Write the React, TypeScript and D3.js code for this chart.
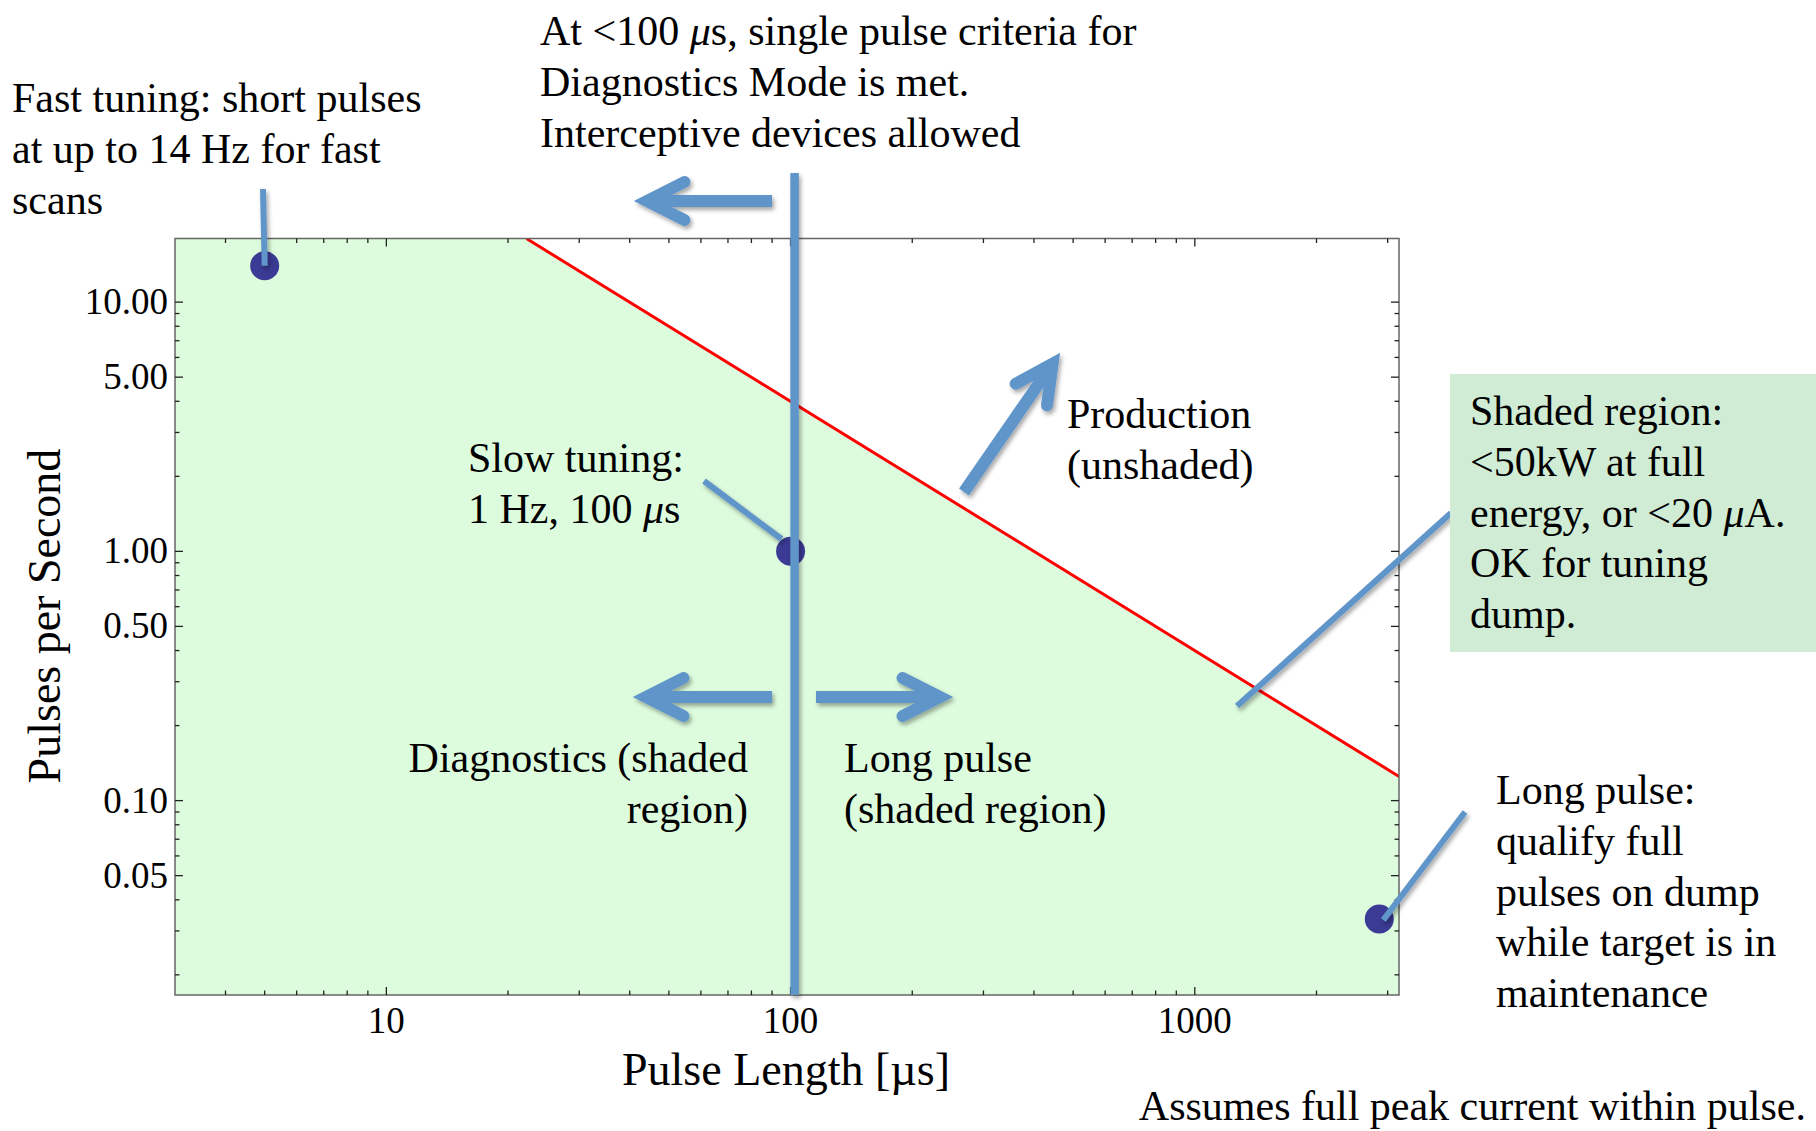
import React, { useRef, useEffect } from "react";
import * as d3 from "d3";

// chart values
const limitLine = [
  { len: 22.2, rate: 18 },
  { len: 3200, rate: 0.125 },
];
const operatingPoints = [
  { name: "fast", len: 5, rate: 14 },
  { name: "slow", len: 100, rate: 1 },
  { name: "long", len: 2860, rate: 0.0335 },
];
const singlePulseLimit = 100;
const xMajorTicks = [10, 100, 1000];
const xMinorTicks = [4, 5, 6, 7, 8, 9, 20, 30, 40, 50, 60, 70, 80, 90, 200, 300, 400, 500, 600, 700, 800, 900, 2000, 3000];
const yMajorTicks = [0.05, 0.1, 0.5, 1, 5, 10];
const yMinorTicks = [0.02, 0.03, 0.04, 0.06, 0.07, 0.08, 0.09, 0.2, 0.3, 0.4, 0.6, 0.7, 0.8, 0.9, 2, 3, 4, 6, 7, 8, 9];

const W = 1816;
const H = 1131;
const plot = { left: 175, right: 1399, top: 238.5, bottom: 995 };

const serif = "'Liberation Serif', 'Times New Roman', serif";
const blue = "#6095c9";
const fillGreen = "#ddfcdd";

const App = () => {
  const ref = useRef(null);

  useEffect(() => {
    const svg = d3.select(ref.current);
    svg.selectAll("*").remove();

    const x = d3.scaleLog().domain([3, 3200]).range([plot.left, plot.right]);
    const y = d3.scaleLog().domain([0.0166, 18]).range([plot.bottom, plot.top]);

    const defs = svg.append("defs");
    defs
      .append("clipPath")
      .attr("id", "plotClip")
      .append("rect")
      .attr("x", plot.left)
      .attr("y", plot.top)
      .attr("width", plot.right - plot.left)
      .attr("height", plot.bottom - plot.top);
    const f = defs
      .append("filter")
      .attr("id", "shadow")
      .attr("x", "-20%")
      .attr("y", "-20%")
      .attr("width", "140%")
      .attr("height", "140%");
    f.append("feDropShadow")
      .attr("dx", 2)
      .attr("dy", 3)
      .attr("stdDeviation", 2)
      .attr("flood-color", "#000")
      .attr("flood-opacity", 0.35);

    svg.append("rect").attr("width", W).attr("height", H).attr("fill", "#fff");

    // shaded region (below the power limit)
    const g = svg.append("g").attr("clip-path", "url(#plotClip)");
    g.append("rect")
      .attr("x", plot.left)
      .attr("y", plot.top)
      .attr("width", plot.right - plot.left)
      .attr("height", plot.bottom - plot.top)
      .attr("fill", fillGreen);
    const above = d3
      .area()
      .x((d) => x(d.len))
      .y0(plot.top)
      .y1((d) => y(d.rate));
    g.append("path").datum(limitLine).attr("d", above).attr("fill", "#fff");
    g.append("path")
      .datum(limitLine)
      .attr("d", d3.line().x((d) => x(d.len)).y((d) => y(d.rate)))
      .attr("fill", "none")
      .attr("stroke", "#ff0000")
      .attr("stroke-width", 3);

    // frame
    svg.append("rect")
      .attr("x", plot.left)
      .attr("y", plot.top)
      .attr("width", plot.right - plot.left)
      .attr("height", plot.bottom - plot.top)
      .attr("fill", "none")
      .attr("stroke", "#666")
      .attr("stroke-width", 1.5);

    const ticks = svg.append("g").attr("stroke", "#222").attr("stroke-width", 1.3);
    const addX = (vals, len) => {
      vals.forEach((v) => {
        ticks.append("line").attr("x1", x(v)).attr("x2", x(v)).attr("y1", plot.bottom).attr("y2", plot.bottom - len);
        ticks.append("line").attr("x1", x(v)).attr("x2", x(v)).attr("y1", plot.top).attr("y2", plot.top + len);
      });
    };
    const addY = (vals, len) => {
      vals.forEach((v) => {
        ticks.append("line").attr("x1", plot.left).attr("x2", plot.left + len).attr("y1", y(v)).attr("y2", y(v));
        ticks.append("line").attr("x1", plot.right).attr("x2", plot.right - len).attr("y1", y(v)).attr("y2", y(v));
      });
    };
    addX(xMajorTicks, 8);
    addX(xMinorTicks, 4.5);
    addY(yMajorTicks, 8);
    addY(yMinorTicks, 4.5);

    const labels = svg.append("g").attr("font-family", serif).attr("fill", "#000");
    labels
      .selectAll(".xl")
      .data(xMajorTicks)
      .join("text")
      .attr("x", (d) => x(d))
      .attr("y", 1033)
      .attr("text-anchor", "middle")
      .attr("font-size", 37)
      .text((d) => String(d));
    labels
      .selectAll(".yl")
      .data(yMajorTicks)
      .join("text")
      .attr("x", 168)
      .attr("y", (d) => y(d) + 12)
      .attr("text-anchor", "end")
      .attr("font-size", 37)
      .text((d) => d3.format(".2f")(d));

    labels
      .append("text")
      .attr("x", 786)
      .attr("y", 1085)
      .attr("text-anchor", "middle")
      .attr("font-size", 46)
      .text("Pulse Length [µs]");
    labels
      .append("text")
      .attr("transform", "translate(60,616) rotate(-90)")
      .attr("text-anchor", "middle")
      .attr("font-size", 46)
      .text("Pulses per Second");

    // operating points
    svg.append("g")
      .selectAll("circle")
      .data(operatingPoints)
      .join("circle")
      .attr("cx", (d) => x(d.len))
      .attr("cy", (d) => y(d.rate))
      .attr("r", 14.5)
      .attr("fill", "#3b3a94");

    // callout lines, from the text to the point
    const pt = (name) => {
      const p = operatingPoints.find((d) => d.name === name);
      return [x(p.len), y(p.rate)];
    };
    const callouts = [
      [[263, 189], pt("fast")],
      [[704, 481], [781.5, 539]],
      [[1237, 706], [1451, 513]],
      [[1465, 812], [pt("long")[0] + 4, pt("long")[1] + 1]],
    ];
    const blueG = svg.append("g").attr("filter", "url(#shadow)");
    callouts.forEach(([a, b]) => {
      blueG.append("line")
        .attr("x1", a[0]).attr("y1", a[1]).attr("x2", b[0]).attr("y2", b[1])
        .attr("stroke", blue)
        .attr("stroke-width", 6);
    });

    // 100 us single pulse line
    blueG.append("line")
      .attr("x1", x(singlePulseLimit) + 4)
      .attr("x2", x(singlePulseLimit) + 4)
      .attr("y1", 173)
      .attr("y2", plot.bottom)
      .attr("stroke", blue)
      .attr("stroke-width", 8.5);

    // arrows: [tail, visual tip]
    const arrows = [
      [[772, 201], [634, 201]],
      [[772, 697], [633, 697]],
      [[816, 697], [953, 697]],
      [[964, 492], [1060, 353]],
    ];
    arrows.forEach(([t, tip]) => {
      const ang = Math.atan2(tip[1] - t[1], tip[0] - t[0]);
      const c = Math.cos(ang);
      const s = Math.sin(ang);
      // pull the vertex back so the mitred point lands on the tip
      const h = [tip[0] - 13 * c, tip[1] - 13 * s];
      const head = 42;
      const spread = 0.47;
      const a1 = [h[0] - head * Math.cos(ang - spread), h[1] - head * Math.sin(ang - spread)];
      const a2 = [h[0] - head * Math.cos(ang + spread), h[1] - head * Math.sin(ang + spread)];
      const back = [h[0] - 6 * c, h[1] - 6 * s];
      const ag = blueG.append("g").attr("stroke", blue).attr("fill", "none").attr("stroke-width", 12);
      ag.append("line").attr("x1", t[0]).attr("y1", t[1]).attr("x2", back[0]).attr("y2", back[1]);
      ag.append("path")
        .attr("d", `M${a1[0]},${a1[1]}L${h[0]},${h[1]}L${a2[0]},${a2[1]}`)
        .attr("stroke-linecap", "round")
        .attr("stroke-linejoin", "miter")
        .attr("stroke-miterlimit", 10);
    });

    // shaded-region note box
    svg.append("rect").attr("x", 1450).attr("y", 374).attr("width", W - 1450).attr("height", 278).attr("fill", "#d0ecd4");

    const note = (lines, x0, y0, anchor = "start") => {
      const t = svg.append("text")
        .attr("font-family", serif)
        .attr("font-size", 42)
        .attr("text-anchor", anchor)
        .attr("fill", "#000");
      lines.forEach((ln, i) => {
        const ts = t.append("tspan").attr("x", x0).attr("y", y0 + i * 50.8);
        const parts = ln.split("μ");
        parts.forEach((p, j) => {
          if (j > 0) ts.append("tspan").attr("font-style", "italic").text("μ");
          ts.append("tspan").text(p);
        });
      });
    };
    note(["At <100 μs, single pulse criteria for", "Diagnostics Mode is met.", "Interceptive devices allowed"], 540, 45);
    note(["Fast tuning: short pulses", "at up to 14 Hz for fast", "scans"], 12, 112);
    note(["Slow tuning:", "1 Hz, 100 μs"], 468, 472);
    note(["Production", "(unshaded)"], 1067, 428);
    note(["Diagnostics (shaded", "region)"], 748, 772, "end");
    note(["Long pulse", "(shaded region)"], 844, 772);
    note(["Shaded region:", "<50kW at full", "energy, or <20 μA.", "OK for tuning", "dump."], 1470, 425);
    note(["Long pulse:", "qualify full", "pulses on dump", "while target is in", "maintenance"], 1496, 804);
    note(["Assumes full peak current within pulse."], 1806, 1120, "end");
  }, []);

  return (
    <svg
      ref={ref}
      width={W}
      height={H}
      style={{ position: "absolute", left: 0, top: 0, display: "block" }}
    />
  );
};

export default App;
